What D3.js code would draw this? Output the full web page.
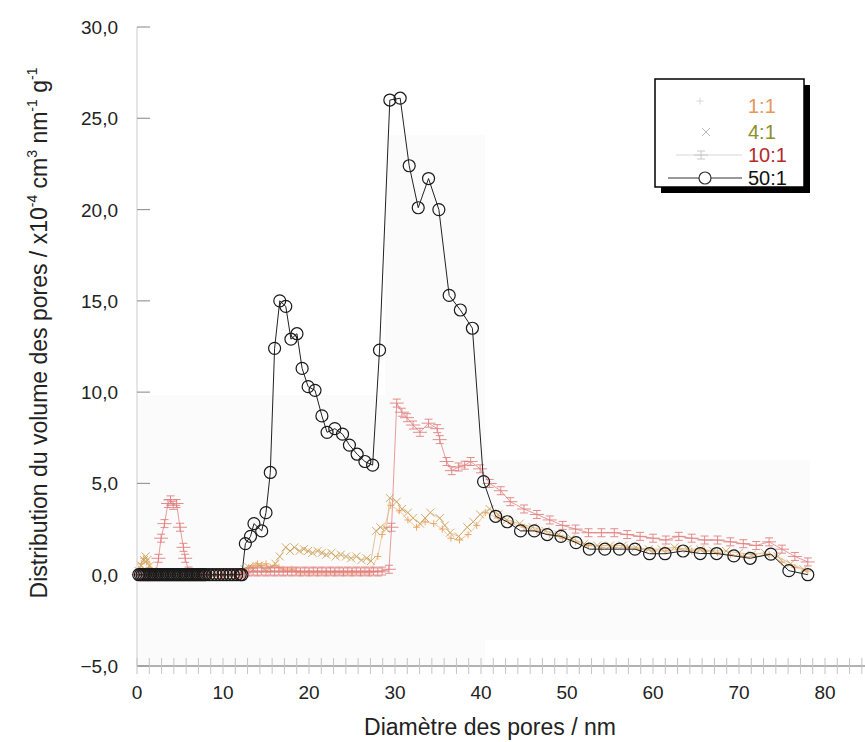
<!DOCTYPE html>
<html>
<head>
<meta charset="utf-8">
<script src="https://cdn.jsdelivr.net/npm/d3@7"></script>
<style>
  body { margin: 0; background: #fff; }
  text { font-family: "Liberation Sans", Arial, sans-serif; }
</style>
</head>
<body>
<div id="chart"></div>
<script>
// series (x = pore diameter nm, y = x10^-4 cm3 nm-1 g-1)
var x50 = [0.2, 0.4, 0.6, 0.8, 1.0, 1.2, 1.4, 1.6, 1.8, 2.0, 2.2, 2.4, 2.6, 2.8, 3.0, 3.2, 3.4, 3.6, 3.8, 4.0,
    4.2, 4.4, 4.6, 4.8, 5.0, 5.2, 5.4, 5.6, 5.8, 6.0, 6.2, 6.4, 6.6, 6.8, 7.0, 7.2, 7.4, 7.6, 7.8, 8.0,
    8.4, 8.8, 9.2, 9.6, 10.0, 10.4, 10.8, 11.2, 11.6, 12.0, 12.2,
    12.6, 13.2, 13.6, 14.5, 15.0, 15.5, 16.0, 16.6, 17.3,
    17.9, 18.6, 19.2, 19.9, 20.7, 21.5, 22.1, 23.0, 23.9, 24.7, 25.6, 26.5, 27.4, 28.2, 29.4, 30.6, 31.65, 32.7, 33.9, 35.1,
    36.3, 37.6, 39.0, 40.3, 41.7, 43.05, 44.6, 46.2, 47.7, 49.3, 51.05, 52.6, 54.4, 56.1, 57.9, 59.6, 61.4, 63.5, 65.5, 67.4,
    69.4, 71.3, 73.7, 75.8, 78.0]
var y50 = [0, 0, 0, 0, 0, 0, 0, 0, 0, 0, 0, 0, 0, 0, 0, 0, 0, 0, 0, 0,
    0, 0, 0, 0, 0, 0, 0, 0, 0, 0, 0, 0, 0, 0, 0, 0, 0, 0, 0, 0,
    0, 0, 0, 0, 0, 0, 0, 0, 0, 0, 0,
    1.7, 2.1, 2.8, 2.4, 3.4, 5.6, 12.4, 15.0, 14.7,
    12.9, 13.2, 11.3, 10.3, 10.1, 8.7, 7.8, 8.0, 7.7, 7.1, 6.6, 6.2, 6.0, 12.3, 26.0, 26.1, 22.4, 20.1, 21.7, 20.0,
    15.3, 14.5, 13.5, 5.1, 3.2, 2.9, 2.4, 2.4, 2.2, 2.1, 1.76, 1.4, 1.4, 1.4, 1.4, 1.15, 1.15, 1.3, 1.16, 1.16,
    1.03, 0.9, 1.13, 0.22, 0.0]

var x10 = [0.2, 0.6, 1.0, 1.4, 1.8, 2.2, 2.5, 2.8, 3.2, 3.6, 3.9, 4.2, 4.6, 5.0, 5.4, 5.6, 6.0, 6.5, 7.0, 7.5,
    8.0, 8.5, 9.0, 9.5, 10.0, 10.5, 11.0, 11.5, 12.0, 12.5, 13.0, 13.5, 14.0, 14.5, 15.0, 15.5, 16.0, 16.5, 17.0, 17.5,
    18.0, 18.5, 19.0, 19.5, 20.0, 20.5, 21.0, 21.5, 22.0, 22.5, 23.0, 23.5, 24.0, 24.5, 25.0, 25.5, 26.0, 26.5, 27.0, 27.5,
    28.0, 28.5, 29.3, 29.6, 30.2, 30.8, 31.4, 32.1, 32.9, 33.9, 34.9, 35.2, 36.0, 36.6, 37.4, 38.1, 38.8, 39.9, 41.0, 42.3,
    43.4, 45.0, 46.5, 48.0, 49.5, 51.0, 52.5, 54.0, 55.5, 57.0, 58.5, 60.0, 61.5, 63.0, 64.5, 66.0, 67.5, 69.0, 70.5, 72.0,
    73.5, 75.0, 76.5, 78.0]
var y10 = [0, 0, 0, 0, 0, 0.1, 0.9, 2.0, 2.8, 3.9, 4.1, 3.8, 3.9, 2.6, 1.5, 0.9, 0.2, 0, 0, 0,
    0, 0, 0, 0, 0, 0, 0, 0, 0.05, 0.1, 0.15, 0.2, 0.15, 0.2, 0.15, 0.2, 0.15, 0.2, 0.15, 0.2,
    0.15, 0.2, 0.15, 0.2, 0.15, 0.2, 0.15, 0.2, 0.15, 0.2, 0.15, 0.2, 0.15, 0.2, 0.15, 0.2, 0.15, 0.2, 0.15, 0.2,
    0.15, 0.2, 0.3, 2.6, 9.4, 8.9, 8.6, 8.2, 7.8, 8.3, 8.0, 7.4, 6.2, 5.7, 5.9, 6.0, 6.2, 5.8, 5.0, 4.6,
    4.0, 3.6, 3.3, 3.0, 2.7, 2.5, 2.3, 2.3, 2.3, 2.2, 2.1, 2.0, 1.9, 2.1, 2.0, 1.9, 1.9, 1.8, 1.7, 1.6,
    1.8, 1.4, 1.0, 0.7]

var x4 = [0.2, 0.5, 0.8, 1.0, 1.2, 1.5, 1.8, 2.2, 3.0, 4.0, 5.0, 6.0, 7.0, 8.0, 9.0, 10.0, 11.0, 12.0, 12.5, 13.0,
    13.5, 14.2, 14.8, 15.4, 16.1, 16.6, 17.3, 17.8, 18.3, 18.9, 19.4, 19.9, 20.4, 21.0, 21.5, 22.0, 22.6, 23.1, 23.7, 24.3,
    24.9, 25.5, 26.1, 26.7, 27.2, 27.8, 28.3, 29.0, 29.4, 30.2, 30.8, 31.5, 32.1, 32.9, 33.5, 34.1, 35.2, 35.8, 36.4, 37.4,
    38.4, 39.1, 39.9, 41.0, 42.0, 43.0, 44.5, 46.0, 47.5, 49.0, 50.5, 52.0, 53.5, 55.0, 56.5, 58.0, 59.5, 61.0, 62.5, 64.0,
    65.5, 67.0, 68.5, 70.0, 71.5, 73.0, 74.5, 76.0, 77.5]
var y4 = [0.2, 0.5, 0.8, 1.0, 0.8, 0.5, 0.2, 0.05, 0, 0, 0, 0, 0, 0, 0, 0, 0, 0, 0.3, 0.4,
    0.3, 0.5, 0.3, 0.35, 0.6, 1.0, 1.5, 1.3, 1.5, 1.3, 1.4, 1.3, 1.2, 1.3, 1.2, 1.1, 1.2, 1.0, 1.1, 1.0,
    0.9, 1.0, 0.8, 0.9, 0.75, 2.4, 2.6, 2.5, 4.2, 4.0, 3.6, 3.4, 3.1, 2.8, 3.1, 3.4, 3.1, 2.7, 2.3, 2.1,
    2.6, 2.9, 3.3, 3.6, 3.3, 3.0, 2.8, 2.6, 2.4, 2.2, 2.0, 1.7, 1.6, 1.6, 1.6, 1.5, 1.4, 1.4, 1.5, 1.4,
    1.4, 1.3, 1.3, 1.2, 1.1, 1.2, 1.0, 0.6, 0.3]

var x1 = [0.2, 0.5, 0.8, 1.1, 1.4, 1.7, 2.1, 3.0, 4.0, 5.0, 6.0, 7.0, 8.0, 9.0, 10.0, 11.0, 12.0, 12.5, 13.0, 13.5,
    14.0, 14.5, 15.0, 15.5, 16.0, 16.5, 17.0, 17.5, 18.0, 18.5, 19.0, 20.0, 21.0, 22.0, 23.0, 24.0, 25.0, 26.0, 27.0, 28.0,
    28.5, 29.5, 30.5, 31.5, 32.5, 33.5, 34.5, 35.5, 36.5, 37.5, 38.5, 39.5, 40.5, 42.0, 43.5, 45.0, 46.5, 48.0, 49.5, 51.0,
    52.5, 54.0, 55.5, 57.0, 58.5, 60.0, 61.5, 63.0, 64.5, 66.0, 67.5, 69.0, 70.5, 72.0, 73.5, 75.0, 76.5, 78.0]
var y1 = [0.3, 0.6, 0.9, 0.7, 0.4, 0.15, 0, 0, 0, 0, 0, 0, 0, 0, 0, 0, 0, 0.2, 0.4, 0.5,
    0.6, 0.5, 0.6, 0.4, 0.5, 0.4, 0.3, 0.2, 0.3, 0.2, 0.1, 0.1, 0.1, 0.1, 0.1, 0.1, 0.1, 0.1, 0.1, 1.0,
    2.2, 3.8, 3.5, 3.0, 2.6, 2.9, 2.8, 2.5, 2.0, 1.9, 2.2, 2.7, 3.4, 3.1, 2.8, 2.6, 2.4, 2.2, 2.0, 1.8,
    1.6, 1.5, 1.5, 1.5, 1.4, 1.3, 1.3, 1.4, 1.3, 1.3, 1.2, 1.1, 1.0, 1.0, 1.1, 0.7, 0.4, 0.2]

var seriesNames = ["1:1", "4:1", "10:1", "50:1"]
var xTicks = [0, 10, 20, 30, 40, 50, 60, 70, 80]
var yTicks = [-5, 0, 5, 10, 15, 20, 25, 30]

var width = 865, height = 742

var svg = d3.select("#chart")
    .append("svg")
    .attr("width", width)
    .attr("height", height)

var x = d3.scaleLinear().domain([0, 85]).range([137, 868])
var y = d3.scaleLinear().domain([-5, 30]).range([666, 27])

// faint scan background patches
var patches = [[137, 395, 348, 271], [385, 135, 100, 260], [485, 460, 325, 180]]
svg.selectAll("rect.patch")
    .data(patches)
    .enter()
    .append("rect")
    .attr("x", d => d[0]).attr("y", d => d[1])
    .attr("width", d => d[2]).attr("height", d => d[3])
    .attr("fill", "#fbfbfb")

// left axis: faint line with short inward ticks
svg.append("line")
    .attr("x1", x(0)).attr("x2", x(0))
    .attr("y1", y(30)).attr("y2", y(-5))
    .attr("stroke", "#dcdcdc").attr("stroke-width", 1.5)

svg.selectAll("line.ytick")
    .data(yTicks)
    .enter()
    .append("line")
    .attr("x1", x(0)).attr("x2", x(0) + 13)
    .attr("y1", d => y(d)).attr("y2", d => y(d))
    .attr("stroke", "#999").attr("stroke-width", 1.2)

var fmt = d3.format(".1f")
svg.selectAll("text.ylab")
    .data(yTicks)
    .enter()
    .append("text")
    .attr("x", 118)
    .attr("y", d => y(d) + 7)
    .attr("text-anchor", "end")
    .style("font-size", "19px")
    .attr("fill", "#222")
    .text(d => fmt(d).replace(".", ","))

// bottom axis at y = -5 with dense minor ticks
svg.append("line")
    .attr("x1", x(0)).attr("x2", width)
    .attr("y1", y(-5)).attr("y2", y(-5))
    .attr("stroke", "#999").attr("stroke-width", 1.5)

svg.selectAll("line.xminor")
    .data(d3.range(0, 86, 10 / 7))
    .enter()
    .append("line")
    .attr("x1", d => x(d)).attr("x2", d => x(d))
    .attr("y1", y(-5) - 8).attr("y2", y(-5) + 8)
    .attr("stroke", "#c4c4c4").attr("stroke-width", 1)

svg.selectAll("text.xlab")
    .data(xTicks)
    .enter()
    .append("text")
    .attr("x", d => x(d))
    .attr("y", 699)
    .attr("text-anchor", "middle")
    .style("font-size", "19px")
    .attr("fill", "#222")
    .text(d => d)

svg.append("text")
    .attr("x", 490)
    .attr("y", 735)
    .attr("text-anchor", "middle")
    .style("font-size", "23px")
    .attr("fill", "#222")
    .text("Diamètre des pores / nm")

var yTitle = svg.append("text")
    .attr("transform", "translate(47,333) rotate(-90)")
    .attr("text-anchor", "middle")
    .style("font-size", "23px")
    .attr("fill", "#222")
yTitle.append("tspan").text("Distribution du volume des pores / x10")
yTitle.append("tspan").attr("dy", -10).style("font-size", "14px").text("-4")
yTitle.append("tspan").attr("dy", 10).text(" cm")
yTitle.append("tspan").attr("dy", -10).style("font-size", "14px").text("3")
yTitle.append("tspan").attr("dy", 10).text(" nm")
yTitle.append("tspan").attr("dy", -10).style("font-size", "14px").text("-1")
yTitle.append("tspan").attr("dy", 10).text(" g")
yTitle.append("tspan").attr("dy", -10).style("font-size", "14px").text("-1")

// marker shapes
var plusPath = "M-3.5,0H3.5M0,-3.5V3.5"
var crossPath = "M-4,-4L4,4M-4,4L4,-4"
var barPath = "M-7,0H7M0,-4V4M-4,-4H4M-4,4H4"

var series = [
    { name: "1:1", xs: x1, ys: y1, line: "#f3c49a", mark: "#eca060", path: plusPath },
    { name: "4:1", xs: x4, ys: y4, line: "#d9bd8a", mark: "#cfa45c", path: crossPath },
    { name: "10:1", xs: x10, ys: y10, line: "#e79090", mark: "#e28080", path: barPath }
]

var line = d3.line().x(d => x(d[0])).y(d => y(d[1]))

series.forEach(function (s) {
    var pts = s.xs.map((v, i) => [v, s.ys[i]])
    svg.append("path")
        .attr("d", line(pts))
        .attr("fill", "none")
        .attr("stroke", s.line)
        .attr("stroke-width", 0.9)
    svg.selectAll(null)
        .data(pts)
        .enter()
        .append("path")
        .attr("d", s.path)
        .attr("transform", d => "translate(" + x(d[0]) + "," + y(d[1]) + ")")
        .attr("fill", "none")
        .attr("stroke", s.mark)
        .attr("stroke-width", 0.9)
})

var pts50 = x50.map((v, i) => [v, y50[i]])
svg.append("path")
    .attr("d", line(pts50))
    .attr("fill", "none")
    .attr("stroke", "#222")
    .attr("stroke-width", 1)

svg.selectAll("circle.p50")
    .data(pts50)
    .enter()
    .append("circle")
    .attr("cx", d => x(d[0]))
    .attr("cy", d => y(d[1]))
    .attr("r", 6)
    .attr("fill", "none")
    .attr("stroke", "#1a1a1a")
    .attr("stroke-width", 1.2)

// legend box with drop shadow
var lg = svg.append("g")
lg.append("rect").attr("x", 661).attr("y", 85).attr("width", 149).attr("height", 108).attr("fill", "#000")
lg.append("rect").attr("x", 655).attr("y", 79).attr("width", 149).attr("height", 108)
    .attr("fill", "#fff").attr("stroke", "#000").attr("stroke-width", 1.5)

var legendColors = ["#e8955a", "#8a8f2a", "#b52a2a", "#111"]
var legendY = [106, 132, 155, 178]
lg.selectAll("text.lg")
    .data(seriesNames)
    .enter()
    .append("text")
    .attr("x", 748)
    .attr("y", (d, i) => legendY[i] + 7)
    .style("font-size", "20px")
    .attr("fill", (d, i) => legendColors[i])
    .text(d => d)

lg.append("path").attr("d", plusPath).attr("transform", "translate(700," + (legendY[0] - 5) + ")")
    .attr("fill", "none").attr("stroke", "#d8d8d8")
lg.append("path").attr("d", crossPath).attr("transform", "translate(706," + legendY[1] + ")")
    .attr("fill", "none").attr("stroke", "#b8b8b8")
lg.append("line").attr("x1", 676).attr("x2", 742).attr("y1", legendY[2]).attr("y2", legendY[2])
    .attr("stroke", "#d8d8d8")
lg.append("path").attr("d", barPath).attr("transform", "translate(701," + legendY[2] + ")")
    .attr("fill", "none").attr("stroke", "#c8c8c8")
lg.append("line").attr("x1", 668).attr("x2", 742).attr("y1", legendY[3]).attr("y2", legendY[3])
    .attr("stroke", "#333")
lg.append("circle").attr("cx", 705).attr("cy", legendY[3]).attr("r", 6)
    .attr("fill", "#fff").attr("stroke", "#333").attr("stroke-width", 1.2)
</script>
</body>
</html>
